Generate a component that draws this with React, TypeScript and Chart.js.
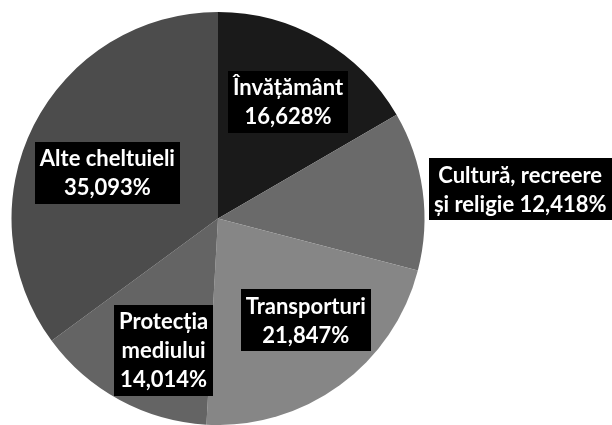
import React, { useEffect, useRef } from "react";
import { Chart, registerables } from "chart.js";

Chart.register(...registerables);

const categories: string[][] = [
  ["Învățământ", "16,628%"],
  ["Cultură, recreere", "și religie 12,418%"],
  ["Transporturi", "21,847%"],
  ["Protecția", "mediului", "14,014%"],
  ["Alte cheltuieli", "35,093%"],
];
const values: number[] = [16.628, 12.418, 21.847, 14.014, 35.093];
const sliceColors: string[] = ["#1a1a1a", "#6a6a6a", "#868686", "#646464", "#4c4c4c"];

// label placement: radial fraction of the radius and small angular nudge (degrees)
const labelRadius: number[] = [0.66, 1.47, 0.65, 0.69, 0.58];
const labelNudge: number[] = [1, 2.3, -4.7, -6, -4.3];

const FONT = "bold 22px Lato";
const LINE_H = 29;
const PAD_X = 5;
const PAD_Y = 2;

const labelPlugin = {
  id: "boxLabels",
  afterDatasetsDraw(chart: any) {
    const ctx = chart.ctx as CanvasRenderingContext2D;
    const meta = chart.getDatasetMeta(0);
    ctx.save();
    ctx.font = FONT;
    ctx.textAlign = "center";
    ctx.textBaseline = "middle";
    meta.data.forEach((arc: any, i: number) => {
      const mid = (arc.startAngle + arc.endAngle) / 2 + (labelNudge[i] * Math.PI) / 180;
      const r = arc.outerRadius * labelRadius[i];
      let cx = arc.x + Math.cos(mid) * r;
      const cy = arc.y + Math.sin(mid) * r;
      const lines = categories[i];
      const w = Math.max(...lines.map((l) => ctx.measureText(l).width)) + PAD_X * 2;
      const h = lines.length * LINE_H + PAD_Y * 2;
      if (cx + w / 2 > chart.width) cx = chart.width - w / 2;
      ctx.fillStyle = "#000000";
      ctx.fillRect(Math.round(cx - w / 2), Math.round(cy - h / 2), Math.round(w), Math.round(h));
      ctx.fillStyle = "#ffffff";
      lines.forEach((l, j) => {
        ctx.fillText(l, cx, cy - h / 2 + PAD_Y + LINE_H * (j + 0.5) + 1);
      });
    });
    ctx.restore();
  },
};

export default function App() {
  const ref = useRef<HTMLCanvasElement | null>(null);
  useEffect(() => {
    if (!ref.current) return;
    const chart = new Chart(ref.current, {
      type: "pie",
      data: {
        labels: categories.map((c) => c.join(" ")),
        datasets: [
          {
            data: values,
            backgroundColor: sliceColors,
            borderWidth: 0,
          },
        ],
      },
      options: {
        responsive: false,
        animation: false,
        layout: { padding: { left: 11, top: 12, right: 187, bottom: 0 } },
        plugins: {
          legend: { display: false },
          tooltip: { enabled: false },
        },
      },
      plugins: [labelPlugin],
    });
    return () => chart.destroy();
  }, []);
  return (
    <div style={{ position: "fixed", left: 0, top: 0, width: 612, height: 425, background: "#ffffff" }}>
      <canvas ref={ref} width={612} height={425} style={{ width: 612, height: 425 }} />
    </div>
  );
}
